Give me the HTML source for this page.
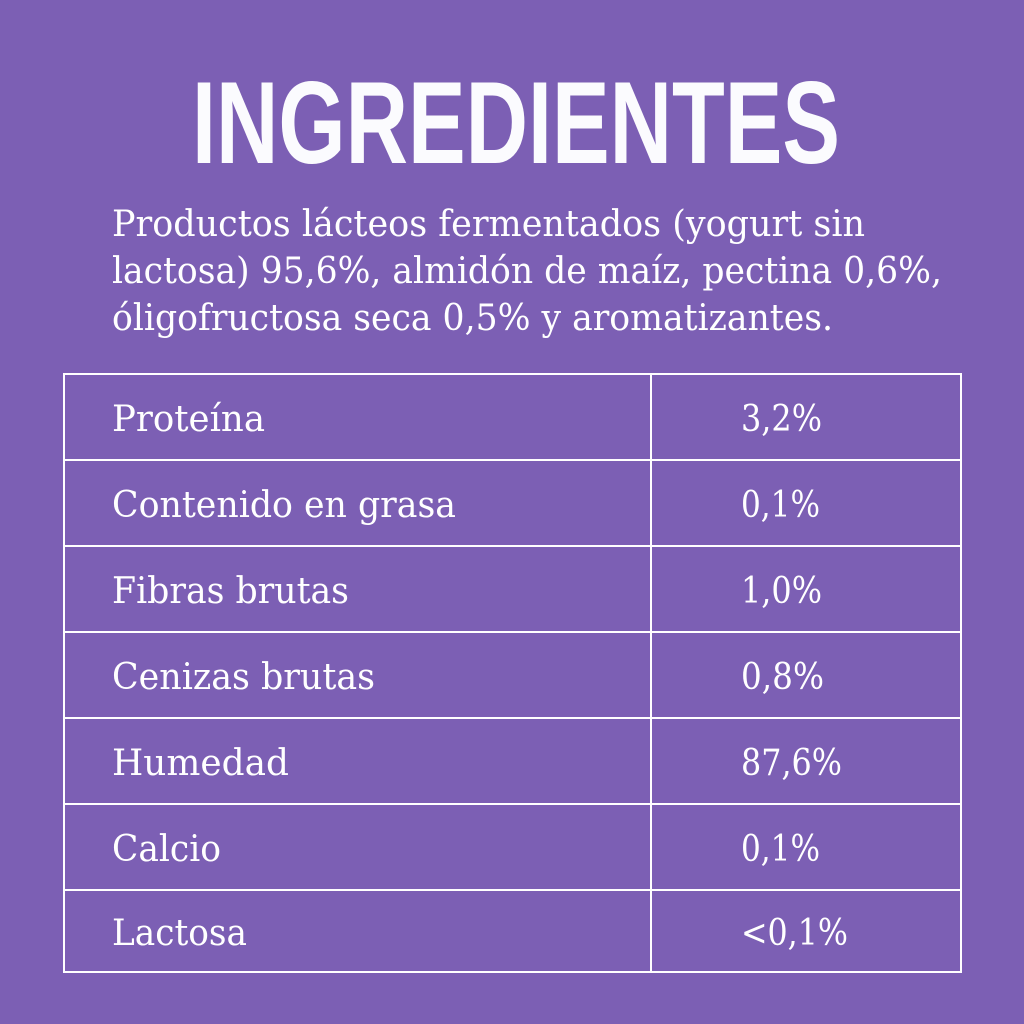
<!DOCTYPE html>
<html><head><meta charset="utf-8"><style>html,body{margin:0;padding:0;background:#7C5FB4;}svg{display:block}</style></head>
<body>
<svg width="1024" height="1024" xmlns="http://www.w3.org/2000/svg">
<rect width="1024" height="1024" fill="#7C5FB4"/>
<text x="192" y="163" font-family="Liberation Sans, sans-serif" font-weight="bold" font-size="117" fill="#fbfbfe" textLength="648" lengthAdjust="spacingAndGlyphs">INGREDIENTES</text>
<g font-family="DejaVu Serif, serif" font-size="36" fill="#fff">
<text x="112" y="236" textLength="753" lengthAdjust="spacingAndGlyphs">Productos lácteos fermentados (yogurt sin</text>
<text x="112" y="283" textLength="830" lengthAdjust="spacingAndGlyphs">lactosa) 95,6%, almidón de maíz, pectina 0,6%,</text>
<text x="112" y="330" textLength="721" lengthAdjust="spacingAndGlyphs">óligofructosa seca 0,5% y aromatizantes.</text>
</g>
<g stroke="#fff" stroke-width="2" fill="none">
<rect x="64" y="374" width="897" height="598"/>
<line x1="651" y1="374" x2="651" y2="972"/>
<line x1="64" y1="460" x2="961" y2="460"/>
<line x1="64" y1="546" x2="961" y2="546"/>
<line x1="64" y1="632" x2="961" y2="632"/>
<line x1="64" y1="718" x2="961" y2="718"/>
<line x1="64" y1="804" x2="961" y2="804"/>
<line x1="64" y1="890" x2="961" y2="890"/>
</g>
<g font-family="DejaVu Serif, serif" font-size="36" fill="#fff">
<text x="112" y="431" textLength="153" lengthAdjust="spacingAndGlyphs">Proteína</text>
<text x="112" y="517" textLength="344" lengthAdjust="spacingAndGlyphs">Contenido en grasa</text>
<text x="112" y="603" textLength="237" lengthAdjust="spacingAndGlyphs">Fibras brutas</text>
<text x="112" y="689" textLength="263" lengthAdjust="spacingAndGlyphs">Cenizas brutas</text>
<text x="112" y="775" textLength="177" lengthAdjust="spacingAndGlyphs">Humedad</text>
<text x="112" y="861" textLength="109" lengthAdjust="spacingAndGlyphs">Calcio</text>
<text x="112" y="945" textLength="135" lengthAdjust="spacingAndGlyphs">Lactosa</text>
<text x="741" y="431" textLength="81" lengthAdjust="spacingAndGlyphs">3,2%</text>
<text x="741" y="517" textLength="79" lengthAdjust="spacingAndGlyphs">0,1%</text>
<text x="741" y="603" textLength="81" lengthAdjust="spacingAndGlyphs">1,0%</text>
<text x="741" y="689" textLength="83" lengthAdjust="spacingAndGlyphs">0,8%</text>
<text x="741" y="775" textLength="101" lengthAdjust="spacingAndGlyphs">87,6%</text>
<text x="741" y="861" textLength="79" lengthAdjust="spacingAndGlyphs">0,1%</text>
<text x="741" y="945" textLength="107" lengthAdjust="spacingAndGlyphs">&lt;0,1%</text>
</g>
</svg>
</body></html>
